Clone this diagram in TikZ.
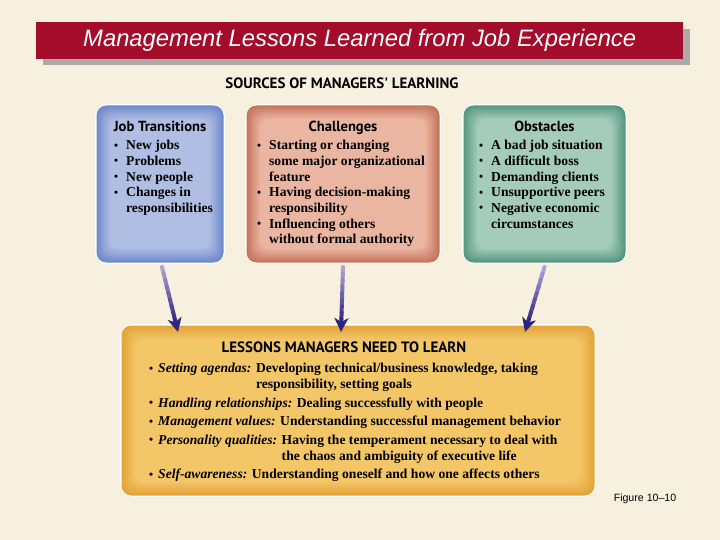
\documentclass[tikz,border=0pt]{standalone}
\usepackage{fontspec}
\setmainfont{Liberation Serif}
\setsansfont{Liberation Sans}
\newfontfamily\headfont{PT Sans}
\usetikzlibrary{arrows.meta,calc,positioning}
\definecolor{paper}{RGB}{247,240,223}
\definecolor{titlered}{RGB}{163,12,42}
\definecolor{shadowgray}{RGB}{172,170,165}
\definecolor{jobsedge}{RGB}{104,132,200}
\definecolor{jobsin}{RGB}{176,190,228}
\definecolor{challedge}{RGB}{196,108,84}
\definecolor{challin}{RGB}{234,182,162}
\definecolor{obstedge}{RGB}{78,146,122}
\definecolor{obstin}{RGB}{164,203,188}
\definecolor{lessedge}{RGB}{226,160,52}
\definecolor{lessin}{RGB}{243,198,104}
\definecolor{arrowtop}{RGB}{172,162,212}
\definecolor{arrowbot}{RGB}{46,36,126}
\newcommand{\bul}{\raisebox{0.1ex}{\scalebox{0.85}{\textbullet}}}
\newcommand{\itm}{\makebox[12pt][l]{\bul}}
\newcommand{\litm}{\makebox[9pt][l]{\bul}}
\newcommand{\glow}[3]{%
    \foreach \d [count=\k] in {1.5,3,...,15}
    {
        \pgfmathtruncatemacro{\pct}{\k*10}
        \fill[rounded corners=10, #3!\pct!#2]
        ($(#1.south west)+(\d,-\d)$) rectangle ($(#1.north east)+(-\d,\d)$);
    }
}
\tikzset{
    box/.style={draw=white, line width=3, rounded corners=12, fill=#1, minimum height=157},
    head/.style={font=\headfont\bfseries\fontsize{14.6}{17}\selectfont, anchor=north},
    list/.style={font=\bfseries\fontsize{13.6}{15.7}\selectfont, align=left, anchor=north west, inner sep=0},
    feed/.style={line width=4, line cap=round}
}
\begin{document}
\begin{tikzpicture}[x=1pt, y=-1pt]
    %% Background
    \fill[paper] (0,0) rectangle (720,540);
    \useasboundingbox (0,0) rectangle (720,540);
    %% Title
    \fill[shadowgray] (43,29) rectangle (690,65);
    \node (title) [fill=titlered, minimum width=647, minimum height=37, anchor=north west, inner sep=0,
        font=\sffamily\itshape\fontsize{23.8}{26}\selectfont, text=white] at (36,22)
        {Management Lessons Learned from Job Experience};
    \node (sources) [font=\headfont\bfseries\fontsize{15}{17}\selectfont] at (342,83)
        {SOURCES OF MANAGERS' LEARNING};
    %% Source boxes
    \node (jobs) [box=jobsedge, minimum width=127, anchor=north west] at (95,104) {};
    \glow{jobs}{jobsedge}{jobsin}
    \node (chall) [box=challedge, minimum width=193, anchor=north west] at (245,104) {};
    \glow{chall}{challedge}{challin}
    \node (obst) [box=obstedge, minimum width=162, anchor=north west] at (462,104) {};
    \glow{obst}{obstedge}{obstin}
    %% Lessons box
    \node (lessons) [box=lessedge, minimum width=473, minimum height=170, anchor=north west] at (120,324) {};
    \glow{lessons}{lessedge}{lessin}
    %% Texts
    \node (jobs-head) [head] at ($(jobs.north)+(0,14)$) {Job Transitions};
    \node (jobs-list) [list] at (114,140)
        {\itm New jobs\\ \itm Problems\\ \itm New people\\ \itm Changes in\\ \hspace*{12pt}responsibilities};
    \node (chall-head) [head] at ($(chall.north)+(0,14)$) {Challenges};
    \node (chall-list) [list] at (257,140)
        {\itm Starting or changing\\ \hspace*{12pt}some major organizational\\ \hspace*{12pt}feature\\
         \itm Having decision-making\\ \hspace*{12pt}responsibility\\
         \itm Influencing others\\ \hspace*{12pt}without formal authority};
    \node (obst-head) [head] at ($(obst.north)+(0,14)$) {Obstacles};
    \node (obst-list) [list] at (479,140)
        {\itm A bad job situation\\ \itm A difficult boss\\ \itm Demanding clients\\
         \itm Unsupportive peers\\ \itm Negative economic\\ \hspace*{12pt}circumstances};
    \node (less-head) [head, font=\headfont\bfseries\fontsize{15}{17}\selectfont] at ($(lessons.north)+(-14,14)$) {LESSONS MANAGERS NEED TO LEARN};
    \node (less-list) [list, font=\bfseries\fontsize{13.6}{18.5}\selectfont] at (149,363)
        {\litm\textit{Setting agendas:} Developing technical/business knowledge, taking\\[-2.5pt]
         \hspace*{9pt}\phantom{\textit{Setting agendas:} }responsibility, setting goals\\
         \litm\textit{Handling relationships:} Dealing successfully with people\\
         \litm\textit{Management values:} Understanding successful management behavior\\
         \litm\textit{Personality qualities:} Having the temperament necessary to deal with\\[-2.5pt]
         \hspace*{9pt}\phantom{\textit{Personality qualities:} }the chaos and ambiguity of executive life\\
         \litm\textit{Self-awareness:} Understanding oneself and how one affects others};
    \node (figno) [font=\sffamily\fontsize{10.6}{12}\selectfont] at (645,499) {Figure 10--10};
    %% Feeds into lessons
    \coordinate (in-jobs) at ($(lessons.north west)+(58,8)$);
    \coordinate (in-chall) at ($(lessons.north west)+(221,8)$);
    \coordinate (in-obst) at ($(lessons.north west)+(405,8)$);
    \foreach \src/\dst/\dx in {jobs/in-jobs/2, chall/in-chall/0, obst/in-obst/0}
    {
        \coordinate (from) at ($(\src.south)+(\dx,3)$);
        \foreach \i in {0,...,8}
        {
            \pgfmathtruncatemacro{\pct}{\i*12}
            \draw[feed, arrowbot!\pct!arrowtop] ($(from)!\i/10!(\dst)$) -- ($(from)!\i/10+0.1!(\dst)$);
        }
        \draw[-{Stealth[length=14, width=14, inset=4]}, line width=3, arrowbot] ($(from)!0.88!(\dst)$) -- (\dst);
    }
\end{tikzpicture}
\end{document}
